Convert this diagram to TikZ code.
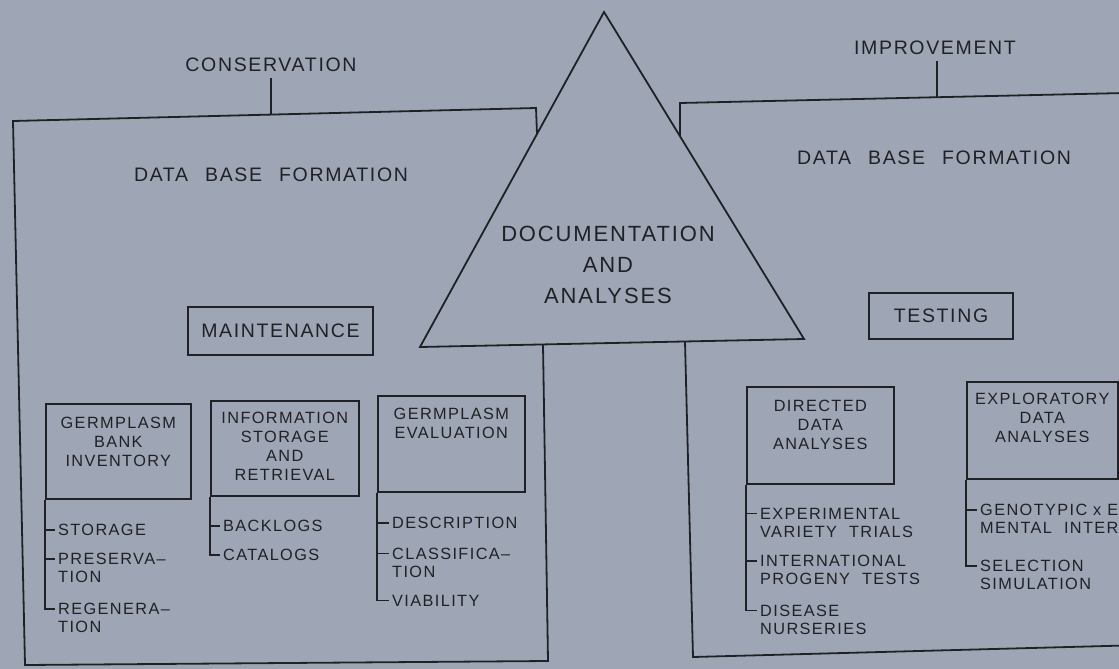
\documentclass[tikz,border=0pt]{standalone}
\usepackage{fontspec}
\setmainfont{Liberation Sans}[LetterSpace=8.5]
\definecolor{bg}{RGB}{158,166,181}
\definecolor{ink}{RGB}{32,33,38}
\tikzset{
  frame/.style={draw=ink, line width=1.8pt, line join=miter},
  head/.style={font=\fontsize{19.5}{22}\selectfont, text=ink, inner sep=0pt},
  tri/.style={font=\fontsize{22}{31}\selectfont, text=ink, align=center, inner sep=0pt},
  hbox/.style={draw=ink, line width=1.6pt, inner sep=0pt},
  ibox/.style={draw=ink, line width=1.6pt, inner sep=0pt, anchor=north west},
  btext/.style={font=\fontsize{16.3}{19}\selectfont, text=ink, align=center, inner sep=0pt, anchor=north},
  item/.style={font=\fontsize{16.3}{18}\selectfont, text=ink, align=left, inner sep=0pt, anchor=north west},
  branch/.style={draw=ink, line width=1.6pt},
}
\begin{document}
\begin{tikzpicture}[x=1pt,y=-1pt]
\useasboundingbox (0,0) rectangle (1119,669);
\fill[bg] (0,0) rectangle (1119,669);
\clip (0,0) rectangle (1119,669);

% triangle
\coordinate (apex) at (604,12);
\coordinate (bl) at (420,347);
\coordinate (br) at (804,339);
\draw[frame] (apex) -- (bl) -- (br) -- cycle;
\node[tri] (doc) at (608,264.5) {DOCUMENTATION\\AND\\ANALYSES};

% left frame
\node[head] (cons) at (271,65) {CONSERVATION};
\coordinate (lt) at (271,114.5);
\draw[frame] (537,134) -- (536,108) -- (13,121) -- (25,665) -- (548,661) -- (543,344.4);
\draw[frame] ([yshift=-6pt]cons.south) -- (lt);
\node[head] (dbfl) at (271,175) {DATA\hspace{17pt}BASE\hspace{17pt}FORMATION};
\node[hbox, head, minimum width=185pt, minimum height=48pt] (maint) at (280.5,331) {MAINTENANCE};

% right frame
\node[head] (impr) at (935,48) {IMPROVEMENT};
\coordinate (rt) at (937,97.3);
\draw[frame] (1125,93) -- (680,103) -- (680,136);
\draw[frame] (685,341.5) -- (693,657) -- (1125,645.5);
\draw[frame] ([yshift=-6pt]impr.south -| rt) -- (rt);
\node[head] (dbfr) at (934,157.5) {DATA\hspace{17pt}BASE\hspace{17pt}FORMATION};
\node[hbox, head, minimum width=144pt, minimum height=46pt] (test) at (941,316) {TESTING};

% ---- inner boxes
\node[ibox, minimum width=145pt, minimum height=95pt] (gbi) at (45,403) {};
\node[btext] (gbit) at ([yshift=-14pt]gbi.north) {GERMPLASM\\BANK\\INVENTORY};
\node[ibox, minimum width=148pt, minimum height=95pt] (isr) at (210,400) {};
\node[btext] (isrt) at ([yshift=-12pt]isr.north) {INFORMATION\\STORAGE\\AND\\RETRIEVAL};
\node[ibox, minimum width=147pt, minimum height=96pt] (ge) at (377,395) {};
\node[btext] (get) at ([yshift=-13pt]ge.north) {GERMPLASM\\EVALUATION};
\node[ibox, minimum width=147pt, minimum height=97pt] (dda) at (746,386) {};
\node[btext] (ddat) at ([yshift=-14pt]dda.north) {DIRECTED\\DATA\\ANALYSES};
\node[ibox, minimum width=151pt, minimum height=97pt] (eda) at (966,381) {};
\node[btext] (edat) at ([yshift=-12pt]eda.north) {EXPLORATORY\\DATA\\ANALYSES};

% ---- items
\node[item] (stor) at (58,524.1) {STORAGE};
\node[item] (pres) at (58,553.1) {PRESERVA\textendash\\TION};
\node[item] (rege) at (58,603.1) {REGENERA\textendash\\TION};
\node[item] (back) at (223,520.1) {BACKLOGS};
\node[item] (cata) at (223,549.1) {CATALOGS};
\node[item] (desc) at (392,517.1) {DESCRIPTION};
\node[item] (clas) at (392,547.6) {CLASSIFICA\textendash\\TION};
\node[item] (viab) at (392,594.6) {VIABILITY};
\node[item] (expe) at (760,507.6) {EXPERIMENTAL\\VARIETY\hspace{12pt}TRIALS};
\node[item] (inte) at (760,555.1) {INTERNATIONAL\\PROGENY\hspace{12pt}TESTS};
\node[item] (dise) at (760,604.6) {DISEASE\\NURSERIES};
\node[item] (geno) at (980,504.1) {GENOTYPIC x E\\MENTAL\hspace{12pt}INTER};
\node[item] (sele) at (980,560.1) {SELECTION\\SIMULATION};

\foreach \n in {stor,pres,rege,back,cata,desc,clas,viab,expe,inte,dise,geno,sele}
  \coordinate (\n-t) at ([xshift=-3pt,yshift=-5.9pt]\n.north west);

% ---- branches
\draw[branch] (gbi.south west) |- (rege-t);
\draw[branch] (gbi.south west |- stor-t) -- (stor-t);
\draw[branch] (gbi.south west |- pres-t) -- (pres-t);
\draw[branch] (isr.south west) |- (cata-t);
\draw[branch] (isr.south west |- back-t) -- (back-t);
\draw[branch] (ge.south west) |- (viab-t);
\draw[branch] (ge.south west |- desc-t) -- (desc-t);
\draw[branch] (ge.south west |- clas-t) -- (clas-t);
\draw[branch] (dda.south west) |- (dise-t);
\draw[branch] (dda.south west |- expe-t) -- (expe-t);
\draw[branch] (dda.south west |- inte-t) -- (inte-t);
\draw[branch] (eda.south west) |- (sele-t);
\draw[branch] (eda.south west |- geno-t) -- (geno-t);
\end{tikzpicture}
\end{document}
